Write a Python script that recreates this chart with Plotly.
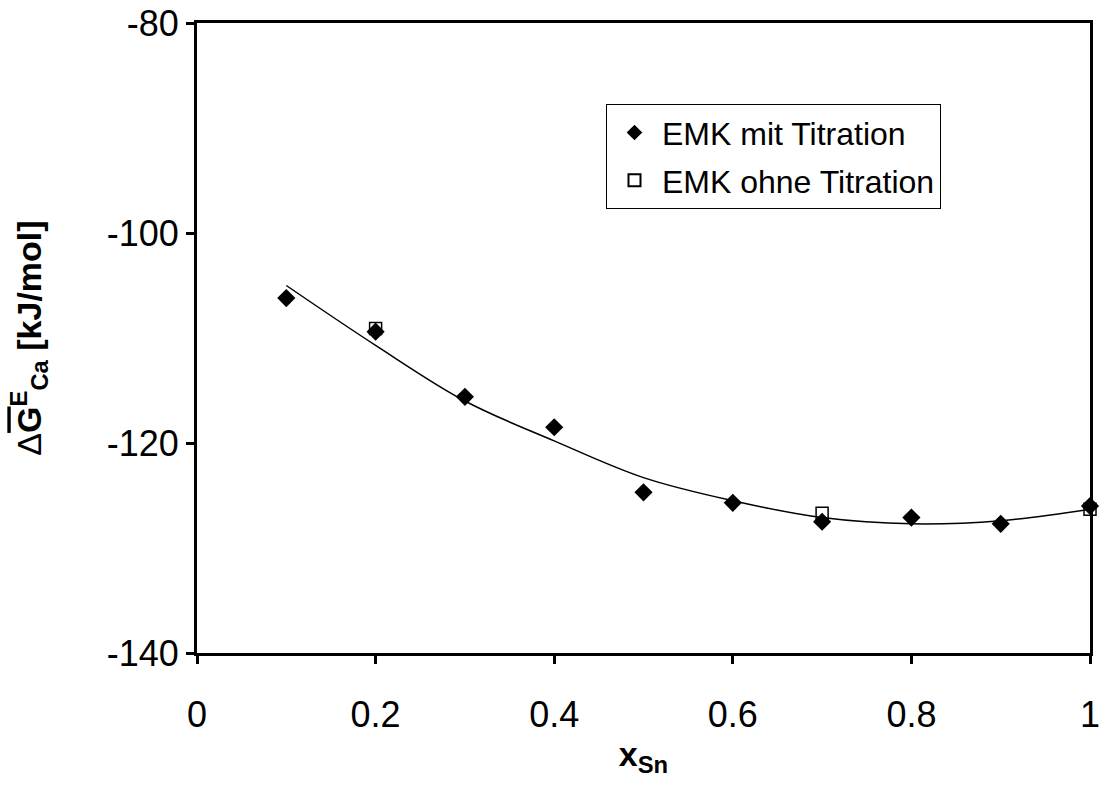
import plotly.graph_objects as go

# Messpunkte
x_mit = [0.1, 0.2, 0.3, 0.4, 0.5, 0.6, 0.7, 0.8, 0.9, 1.0]
g_mit = [-106.2, -109.4, -115.6, -118.5, -124.7, -125.7, -127.5, -127.1, -127.7, -126.0]

x_ohne = [0.2, 0.7, 1.0]
g_ohne = [-109.1, -126.7, -126.3]

# Ausgleichskurve
x_fit = [0.1, 0.2, 0.3, 0.4, 0.5, 0.6, 0.7, 0.8, 0.9, 1.0]
g_fit = [-105.0, -110.7, -116.0, -119.8, -123.3, -125.5, -127.1, -127.7, -127.4, -126.3]

x_ticks = [0, 0.2, 0.4, 0.6, 0.8, 1]
x_ticklabels = ['0', '0.2', '0.4', '0.6', '0.8', '1']
y_ticks = [-140, -120, -100, -80]
y_ticklabels = ['-140', '-120', '-100', '-80']

font = 'Liberation Sans, Arial, sans-serif'

fig = go.Figure()

# Ausgleichskurve
fig.add_trace(go.Scatter(
    x=x_fit, y=g_fit,
    mode='lines',
    line=dict(color='black', width=1.5, shape='spline', smoothing=1.0),
    showlegend=False
))

# EMK mit Titration
fig.add_trace(go.Scatter(
    x=x_mit, y=g_mit,
    mode='markers',
    name='EMK mit Titration',
    legendgroup='a',
    marker=dict(symbol='diamond', size=14, color='black'),
    cliponaxis=False
))

# EMK ohne Titration
fig.add_trace(go.Scatter(
    x=x_ohne, y=g_ohne,
    mode='markers',
    name='EMK ohne Titration',
    legendgroup='b',
    marker=dict(symbol='square-open', size=12, color='black', line=dict(width=1.5)),
    cliponaxis=False
))

fig.update_layout(
    width=1100, height=785,
    margin=dict(l=197, r=10, t=23, b=132),
    paper_bgcolor='white',
    plot_bgcolor='white',
    font=dict(family=font, color='black', size=36),
    legend=dict(
        x=0.458, y=0.871, xanchor='left', yanchor='top',
        bordercolor='black', borderwidth=1,
        font=dict(size=32, family=font),
        traceorder='grouped',
        tracegroupgap=3,
        itemsizing='constant',
        itemwidth=45,
        bgcolor='white'
    ),
    showlegend=True
)

fig.update_xaxes(
    range=[0, 1],
    tickvals=x_ticks, ticktext=x_ticklabels,
    ticks='outside', ticklen=8, tickwidth=3, tickcolor='black',
    ticklabelstandoff=20, ticklabeloverflow='allow',
    showline=True, linewidth=3, linecolor='black', mirror=True,
    showgrid=False, zeroline=False, automargin=False,
    tickfont=dict(size=36),
    title=dict(text='<b>x<sub>Sn</sub></b>', font=dict(size=34), standoff=8)
)
fig.update_yaxes(
    range=[-140, -80],
    tickvals=y_ticks, ticktext=y_ticklabels,
    ticks='outside', ticklen=8, tickwidth=3, tickcolor='black',
    ticklabeloverflow='allow',
    showline=True, linewidth=3, linecolor='black', mirror=True,
    showgrid=False, zeroline=False, automargin=False,
    tickfont=dict(size=36),
    title=dict(
        text="Δ<b><span style='text-decoration:overline'>G</span><sup>E</sup><sub>Ca</sub> [kJ/mol]</b>",
        font=dict(size=34), standoff=55
    )
)

# Seitenrand des Browsers entfernen
fig.write_html('out.html', config={'displayModeBar': False},
               post_script="document.body.style.margin='0';")
